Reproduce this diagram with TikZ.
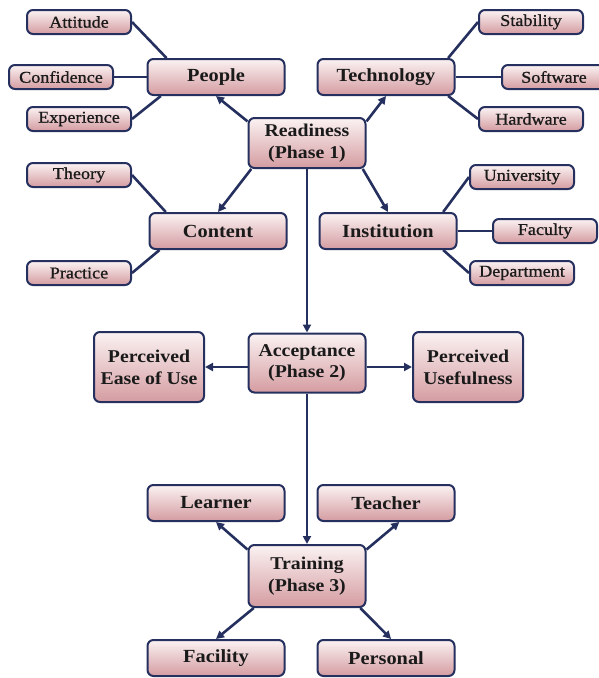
\documentclass[tikz,border=0pt]{standalone}
\usepackage{fontspec}
\setmainfont{Liberation Serif}
\newfontfamily\boxf[FakeStretch=1.1]{Liberation Serif}
\newfontfamily\smallf[FakeStretch=1.1,FakeBold=0.9]{Liberation Serif}
\usetikzlibrary{arrows.meta}
\definecolor{navy}{HTML}{25305F}
\definecolor{boxtop}{HTML}{FBF2F2}
\definecolor{boxbot}{HTML}{D49CA1}
\definecolor{txt}{HTML}{1A1A1A}
\tikzset{
  box/.style={draw=navy, line width=2pt, rounded corners=6pt, top color=boxtop, bottom color=boxbot, text=txt, inner sep=0pt, align=center},
  smallbox/.style={box, minimum width=104pt, minimum height=24pt, font=\smallf\fontsize{16.5}{18}\selectfont},
  midbox/.style={box, minimum width=137pt, minimum height=36pt, font=\boxf\bfseries\fontsize{18.5}{21}\selectfont},
  phasebox/.style={box, minimum width=117pt, minimum height=50pt, font=\boxf\bfseries\fontsize{18}{21.5}\selectfont},
  percbox/.style={box, minimum width=110pt, minimum height=70pt, font=\boxf\bfseries\fontsize{18}{22}\selectfont},
  conn/.style={draw=navy, line width=2.6pt},
  arr/.style={conn, -{Triangle[length=8pt,width=8pt]}}
}
\begin{document}
\begin{tikzpicture}[x=1pt,y=-1pt]
\useasboundingbox (0,0) rectangle (599,678);
% phase 1 group
\node[phasebox] (rd) at (307,143) {Readiness\\(Phase 1)};
\node[midbox] (pe) at (216,77) {People};
\node[midbox] (tech) at (386,77) {Technology};
\node[midbox] (cont) at (218,231) {Content};
\node[midbox] (inst) at (388,231) {Institution};
\node[smallbox] (att) at (79,22) {Attitude};
\node[smallbox] (conf) at (61,77) {Confidence};
\node[smallbox] (exp) at (79,119) {Experience};
\node[smallbox] (stab) at (531,22) {Stability};
\node[smallbox] (soft) at (554,77) {Software};
\node[smallbox] (hw) at (531,119) {Hardware};
\node[smallbox] (th) at (79,175) {Theory};
\node[smallbox] (pr) at (79,273) {Practice};
\node[smallbox] (uni) at (522,177) {University};
\node[smallbox] (fac) at (545,231) {Faculty};
\node[smallbox] (dep) at (522,273) {Department};
% phase 2
\node[phasebox, minimum height=59pt] (acc) at (307,363) {Acceptance\\(Phase 2)};
\node[percbox] (peou) at (149,367) {Perceived\\Ease of Use};
\node[percbox] (pu) at (468,367) {Perceived\\Usefulness};
% phase 3
\node[phasebox, minimum height=62pt] (tr) at (307,576) {Training\\(Phase 3)};
\node[midbox] (le) at (216,503) {Learner};
\node[midbox] (te) at (386,503) {Teacher};
\node[midbox] (fa) at (216,658) {Facility};
\node[midbox] (ps) at (386,658) {Personal};
% connectors
\draw[conn] (att.east) -- (pe.159);
\draw[conn] (conf.east) -- (pe.west);
\draw[conn] (exp.east) -- (pe.199);
\draw[conn] (stab.west) -- (tech.17);
\draw[conn] (tech.east) -- (soft.west);
\draw[conn] (hw.west) -- (tech.343);
\draw[conn] (th.east) -- (cont.160);
\draw[conn] (pr.east) -- (cont.198);
\draw[conn] (uni.west) -- (inst.19);
\draw[conn] (inst.east) -- (fac.west);
\draw[conn] (dep.west) -- (inst.341);
\draw[arr] (rd.160) -- (pe.south);
\draw[arr] (rd.20) -- (tech.south);
\draw[arr] (rd.205) -- (cont.north);
\draw[arr] (rd.335) -- (inst.north);
\draw[arr] (rd.south) -- (acc.north);
\draw[arr] (acc.west |- peou.east) -- (peou.east);
\draw[arr] (acc.east |- pu.west) -- (pu.west);
\draw[arr] (acc.south) -- (tr.north);
\draw[arr] (tr.156) -- (le.south);
\draw[arr] (tr.24) -- (te.-55);
\draw[arr] (tr.211) -- (fa.north);
\draw[arr] (tr.329) -- (ps.75);
\end{tikzpicture}
\end{document}
